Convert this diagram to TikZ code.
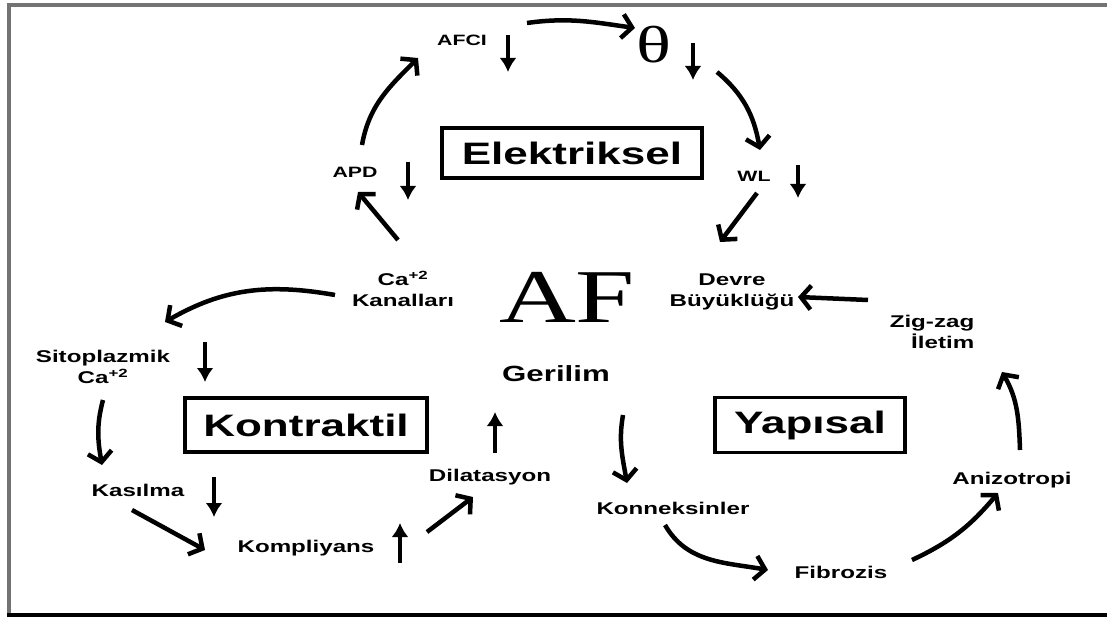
\documentclass[tikz,border=0pt]{standalone}
\usepackage{fontspec}
\newfontfamily\labfont[FakeStretch=1.42]{Liberation Sans}
\newfontfamily\serfont[FakeStretch=1.4]{Liberation Serif}
\usetikzlibrary{arrows.meta}

\tikzset{
  lab/.style={font=\labfont\bfseries\fontsize{17}{21}\selectfont, inner sep=2pt, align=center},
  smlab/.style={font=\labfont\bfseries\fontsize{15}{18}\selectfont, inner sep=2pt},
  groupbox/.style={draw, line width=3.5pt, inner sep=2pt, font=\labfont\bfseries\fontsize{31}{35}\selectfont},
  conn/.style={line width=4.5pt, -{Straight Barb[length=10pt,width=24pt]}},
  updown/.style={line width=3.8pt, -{Latex[length=14pt,width=17pt]}}
}

\begin{document}
\begin{tikzpicture}[x=1pt,y=1pt]
  \useasboundingbox (0,0) rectangle (1107,619);
  % frame
  \draw[line width=3.5pt, black!55] (9,3) -- (9,614) -- (1107,614);
  \draw[line width=4.5pt] (7,4) -- (1107,4);

  % group boxes
  \node[groupbox, minimum width=260pt, minimum height=50pt] (elek) at (572,466) {Elektriksel};
  \node[groupbox, minimum width=242pt, minimum height=54pt] (kontr) at (306,194) {Kontraktil};
  \node[groupbox, minimum width=190pt, minimum height=55pt] (yap) at (810,194) {Yap\i sal};

  % centre
  \node[font=\serfont\fontsize{76}{80}\selectfont, inner sep=0pt] (af) at (567,322) {AF};
  \node[lab, font=\labfont\bfseries\fontsize{22}{25}\selectfont] (geril) at (556,245) {Gerilim};

  % Elektriksel
  \node[smlab] (afci) at (462,579) {AFCI};
  \node[font=\serfont\fontsize{52}{56}\selectfont, inner sep=0pt] (theta) at (654,574) {θ};
  \node[smlab] (apd) at (355,447) {APD};
  \node[smlab] (wl) at (754,443) {WL};
  \node[lab] (ca) at (403,330) {Ca\textsuperscript{+2}\\Kanallar\i};
  \node[lab] (devre) at (732,327) {Devre\\Büyüklüğü};

  % Kontraktil
  \node[lab] (sito) at (103,252) {Sitoplazmik\\Ca\textsuperscript{+2}};
  \node[lab] (kas) at (138,129) {Kas\i lma};
  \node[lab] (komp) at (306,71) {Kompliyans};
  \node[lab] (dil) at (490,142) {Dilatasyon};

  % Yapisal
  \node[lab] (konn) at (673,111) {Konneksinler};
  \node[lab] (fib) at (841,47) {Fibrozis};
  \node[lab] (aniz) at (1012,139) {Anizotropi};
  \node[lab, align=right] (zig) at (932,287) {Zig-zag\\İletim};

  % up / down marks
  \draw[updown] ([shift={(46,5)}]afci.center) -- ++(0,-37);
  \draw[updown] ([shift={(39,2)}]theta.center) -- ++(0,-37);
  \draw[updown] ([shift={(53,10)}]apd.center) -- ++(0,-38);
  \draw[updown] ([shift={(44,11)}]wl.center) -- ++(0,-33);
  \draw[updown] ([shift={(102,25)}]sito.center) -- ++(0,-40);
  \draw[updown] ([shift={(76,13)}]kas.center) -- ++(0,-40);
  \draw[updown] ([shift={(94,-15)}]komp.center) -- ++(0,40);
  \draw[updown] ([shift={(5,24)}]dil.center) -- ++(0,41);

  % cycle arrows
  \draw[conn] ([shift={(65,17)}]afci.center) to[out=8,in=172] ([shift={(-19,17)}]theta.center);
  \draw[conn] ([shift={(63,-27)}]theta.center) to[out=-40,in=100] ([shift={(6,26)}]wl.center);
  \draw[conn] ([shift={(3,-17)}]wl.center) -- ([shift={(-12,50)}]devre.center);
  \draw[conn] ([shift={(-5,49)}]ca.center) -- ([shift={(3,-20)}]apd.center);
  \draw[conn] ([shift={(7,27)}]apd.center) to[out=80,in=225] ([shift={(-44,-18)}]afci.center);
  \draw[conn] ([shift={(-68,-6)}]ca.center) to[out=170,in=30] ([shift={(62,45)}]sito.center);
  \draw[conn] ([shift={(0,-33)}]sito.center) to[out=255,in=100] ([shift={(-36,25)}]kas.center);
  \draw[conn] ([shift={(-6,-20)}]kas.center) -- ([shift={(-101,-2)}]komp.center);
  \draw[conn] ([shift={(121,16)}]komp.center) -- ([shift={(-17,-20)}]dil.center);
  \draw[conn] ([shift={(67,-41)}]geril.center) to[out=260,in=100] ([shift={(-46,25)}]konn.center);
  \draw[conn] ([shift={(-8,-17)}]konn.center) to[out=-60,in=170] ([shift={(-73,2)}]fib.center);
  \draw[conn] ([shift={(71,12)}]fib.center) to[out=25,in=230] ([shift={(-14,-13)}]aniz.center);
  \draw[conn] ([shift={(8,30)}]aniz.center) to[out=92,in=-60] ([shift={(70,-40)}]zig.center);
  \draw[conn] ([shift={(-64,32)}]zig.center) -- ([shift={(66,-5)}]devre.center);
\end{tikzpicture}
\end{document}
